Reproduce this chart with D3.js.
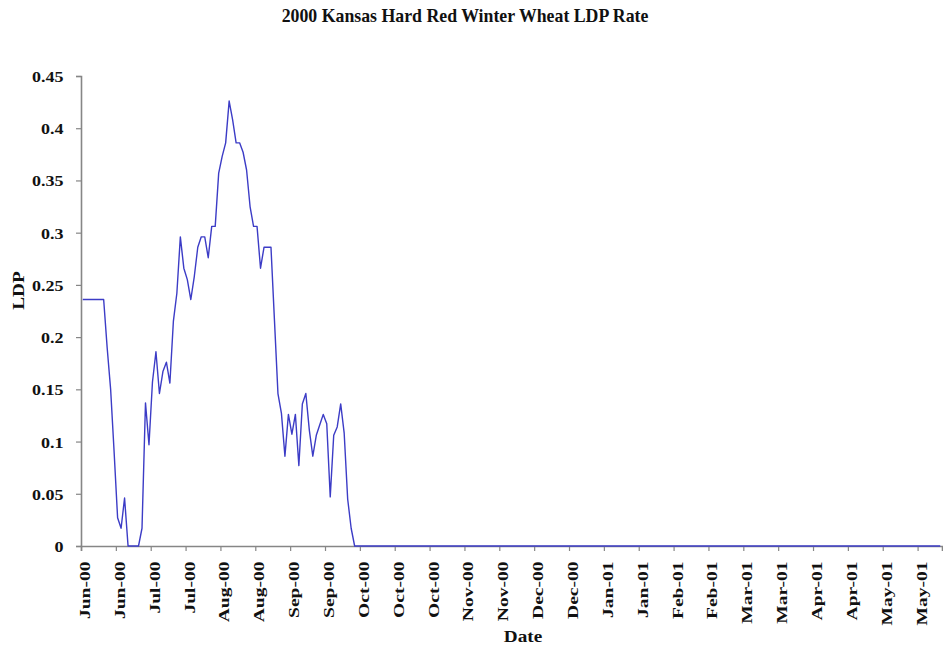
<!DOCTYPE html>
<html>
<head>
<meta charset="utf-8">
<script src="https://cdn.jsdelivr.net/npm/d3@7"></script>
<style>
  html, body { margin: 0; padding: 0; background: #ffffff; }
  svg text { font-family: "Liberation Serif", "Times New Roman", serif; font-weight: bold; fill: #111; }
</style>
</head>
<body>
<svg id="chart" width="943" height="645"></svg>
<script>
// ---- data ----
const chartTitle = "2000 Kansas Hard Red Winter Wheat LDP Rate";
const xTitle = "Date";
const yTitle = "LDP";

// trading-day index of each plotted point
const dayIndex = [
  0, 1, 2, 3, 4, 5, 6, 7, 8, 9,
  10, 11, 12, 13, 14, 15, 16, 17, 18, 19,
  20, 21, 22, 23, 24, 25, 26, 27, 28, 29,
  30, 31, 32, 33, 34, 35, 36, 37, 38, 39,
  40, 41, 42, 43, 44, 45, 46, 47, 48, 49,
  50, 51, 52, 53, 54, 55, 56, 57, 58, 59,
  60, 61, 62, 63, 64, 65, 66, 67, 68, 69,
  70, 71, 72, 73, 74, 75, 76, 77, 78, 246
];
// LDP rate ($/bu) for each point
const ldpRate = [
  0.236, 0.236, 0.236, 0.236, 0.236, 0.236, 0.236, 0.19, 0.15, 0.09,
  0.027, 0.017, 0.046, 0, 0, 0, 0, 0.017, 0.137, 0.097,
  0.157, 0.186, 0.146, 0.167, 0.176, 0.156, 0.215, 0.242, 0.296, 0.266,
  0.255, 0.236, 0.258, 0.286, 0.296, 0.296, 0.276, 0.306, 0.306, 0.357,
  0.373, 0.386, 0.426, 0.408, 0.386, 0.386, 0.377, 0.36, 0.325, 0.306,
  0.306, 0.266, 0.286, 0.286, 0.286, 0.216, 0.146, 0.127, 0.086, 0.126,
  0.107, 0.126, 0.077, 0.136, 0.146, 0.111, 0.086, 0.106, 0.116, 0.126,
  0.117, 0.047, 0.106, 0.114, 0.136, 0.108, 0.045, 0.017, 0, 0
];
const totalDays = 247;

// category-axis tick marks (every 10 trading days) and their labels
const xTickIndex = [0, 10, 20, 30, 40, 50, 60, 70, 80, 90, 100, 110, 120,
                    130, 140, 150, 160, 170, 180, 190, 200, 210, 220, 230, 240];
const xTickLabels = ["Jun-00", "Jun-00", "Jul-00", "Jul-00", "Aug-00", "Aug-00",
  "Sep-00", "Sep-00", "Oct-00", "Oct-00", "Oct-00", "Nov-00", "Nov-00",
  "Dec-00", "Dec-00", "Jan-01", "Jan-01", "Feb-01", "Feb-01", "Mar-01",
  "Mar-01", "Apr-01", "Apr-01", "May-01", "May-01"];

const yTickValues = [0, 0.05, 0.1, 0.15, 0.2, 0.25, 0.3, 0.35, 0.4, 0.45];
const yTickLabels = ["0", "0.05", "0.1", "0.15", "0.2", "0.25", "0.3", "0.35", "0.4", "0.45"];

// ---- layout ----
const plot = { left: 81, right: 942, top: 76, bottom: 546 };
const textStretch = 1.2;
const axisColor = "#868686";
const lineColor = "#3c3cc6";

const svg = d3.select("#chart");

const x = d3.scaleLinear().domain([0, totalDays]).range([plot.left, plot.right]);
const y = d3.scaleLinear().domain([0, 0.45]).range([plot.bottom, plot.top]);

// y axis
const yAxis = svg.append("g")
  .attr("transform", `translate(${plot.left},0)`)
  .call(d3.axisLeft(y).tickValues(yTickValues).tickSize(5)
        .tickFormat((d, i) => yTickLabels[i]));
yAxis.select(".domain").attr("stroke", axisColor).attr("stroke-width", 1.6);
yAxis.selectAll(".tick line").attr("stroke", axisColor).attr("stroke-width", 1.2);
yAxis.selectAll(".tick text")
  .attr("x", null).attr("dy", null)
  .attr("text-anchor", "end")
  .attr("dominant-baseline", "central")
  .attr("transform", `translate(-17.5,0.5) scale(${textStretch},1)`)
  .style("font-size", "15px")
  .style("font-family", "'Liberation Serif', 'Times New Roman', serif")
  .style("font-weight", "bold")
  .attr("fill", "#111");

// x axis
const xAxis = svg.append("g")
  .attr("transform", `translate(0,${plot.bottom})`)
  .call(d3.axisBottom(x).tickValues(xTickIndex).tickSize(5)
        .tickFormat((d, i) => xTickLabels[i]));
xAxis.select(".domain").attr("stroke", axisColor).attr("stroke-width", 1.6);
xAxis.selectAll(".tick line").attr("stroke", axisColor).attr("stroke-width", 1.2);
xAxis.selectAll(".tick text")
  .attr("y", null).attr("dy", null)
  .attr("text-anchor", "end")
  .attr("transform", `translate(0,15.5) rotate(-90) scale(1.26,1)`)
  .attr("dy", "0.55em")
  .style("font-size", "15.5px")
  .style("font-family", "'Liberation Serif', 'Times New Roman', serif")
  .style("font-weight", "bold")
  .attr("fill", "#111");

// data line
const pts = dayIndex.map((d, i) => ({ i: d, v: ldpRate[i] }));
const line = d3.line().x(d => x(d.i + 0.5)).y(d => y(d.v));
svg.append("path")
  .datum(pts)
  .attr("d", line)
  .attr("fill", "none")
  .attr("stroke", lineColor)
  .attr("stroke-width", 1.4)
  .attr("stroke-linejoin", "round");

// titles
svg.append("text")
  .attr("transform", `translate(465,22)`)
  .attr("text-anchor", "middle")
  .style("font-size", "17.8px")
  .text(chartTitle);

svg.append("text")
  .attr("transform", `translate(523,642) scale(${textStretch},1)`)
  .attr("text-anchor", "middle")
  .style("font-size", "16px")
  .text(xTitle);

svg.append("text")
  .attr("transform", `translate(24,290.5) rotate(-90) scale(1.2,1)`)
  .attr("text-anchor", "middle")
  .style("font-size", "16px")
  .text(yTitle);
</script>
</body>
</html>
